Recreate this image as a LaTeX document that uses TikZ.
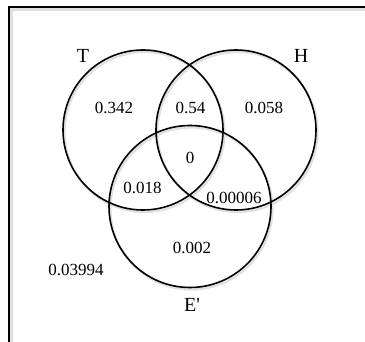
\documentclass[tikz,border=0pt]{standalone}
\usepackage{fontspec}
\setmainfont{Liberation Serif}
\newfontfamily\plainserif{Liberation Serif}
\begin{document}
\begin{tikzpicture}[x=1pt,y=-1pt,
  setc/.style={circle, draw=black, line width=1.6pt, minimum size=160pt, inner sep=0pt},
  setshadow/.style={circle, draw=black!12, line width=2.2pt, minimum size=160pt, inner sep=0pt},
  num/.style={font=\fontsize{17}{19}\selectfont, inner sep=0pt},
  lab/.style={font=\plainserif\fontsize{20}{22}\selectfont, inner sep=0pt}]
\useasboundingbox (0,0) rectangle (365,342);
% frame with soft shadow
\draw[black!12, line width=2.2pt] (11.5,342) -- (11.5,9.5) -- (365,9.5);
\draw[line width=1.8pt] (9,342) -- (9,7) -- (365,7);
% shadows of the circles
\node[setshadow] (Ts) at (144.5,132) {};
\node[setshadow] (Hs) at (237.5,132) {};
\node[setshadow, minimum size=162pt] (Es) at (191.5,208.5) {};
% circles
\node[setc] (T) at (143,130) {};
\node[setc] (H) at (236,130) {};
\node[setc, minimum size=162pt] (E) at (190,206.5) {};
% set labels
\node[lab] (lT) at (83,56) {T};
\node[lab] (lH) at (301,56) {H};
\node[lab] (lE) at (192,305) {E'};
% region values
\node[num] (a) at (114,107.5) {0.342};
\node[num] (b) at (190.5,108) {0.54};
\node[num] (c) at (264,108) {0.058};
\node[num] (d) at (190,158) {0};
\node[num] (e) at (142.5,187.5) {0.018};
\node[num] (f) at (234,197.5) {0.00006};
\node[num] (g) at (192,247.5) {0.002};
\node[num] (h) at (76,270) {0.03994};
\end{tikzpicture}
\end{document}
